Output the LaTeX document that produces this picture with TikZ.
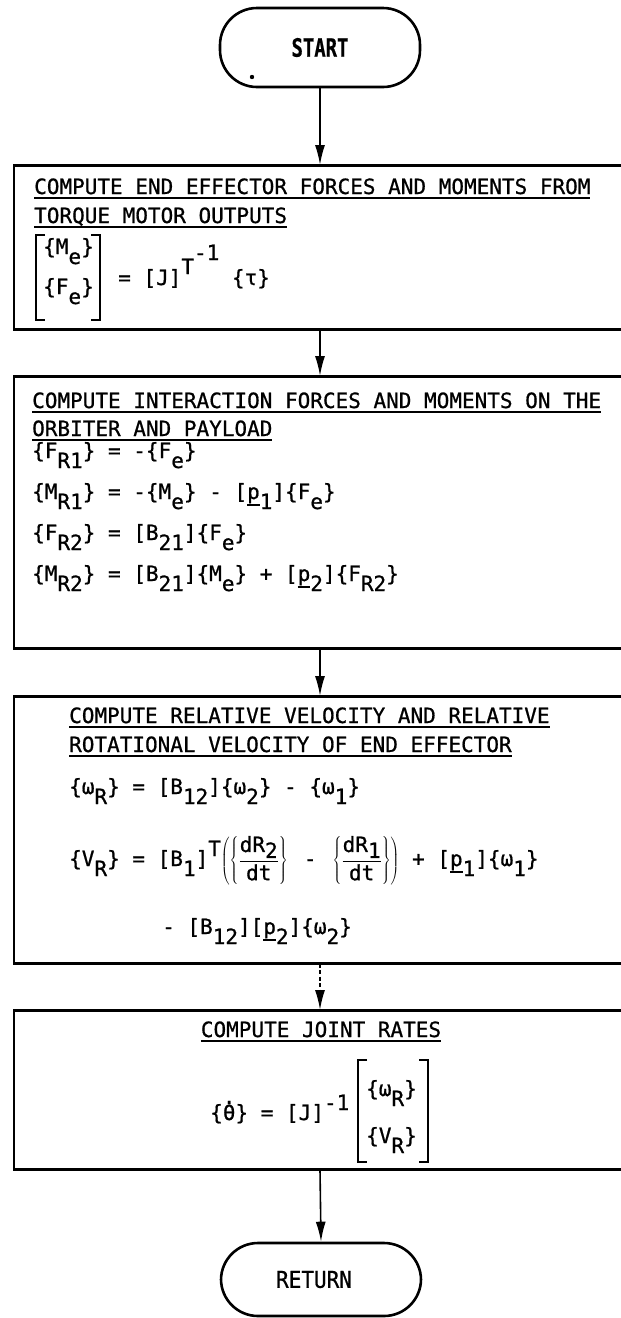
\documentclass[tikz,border=0pt]{standalone}
\usepackage{fontspec}
\usetikzlibrary{arrows.meta}
\newfontfamily\tw[FakeBold=0.8]{DejaVu Sans Mono}
\newcommand\sbs[1]{\raisebox{-10pt}{#1}}
\newcommand\sps[1]{\raisebox{10pt}{#1}}
\newcommand\ul[1]{\setbox0\hbox{#1}\rlap{\rule[-5pt]{\wd0}{1.8pt}}\box0}
\newcommand\up{\setbox2\hbox{p}\rlap{\rule[-6.5pt]{\wd2}{1.3pt}}\box2}
\newcommand\thd{\ooalign{θ\cr\hidewidth\raisebox{16pt}{.}\hidewidth\cr}}
\begin{document}
\begin{tikzpicture}[x=1pt,y=-1pt,
  txt/.style={anchor=base west, inner sep=0pt, font=\tw\fontsize{21}{25}\selectfont},
  box/.style={draw, line width=1.5pt, inner sep=0pt, anchor=north west, minimum width=627pt},
  term/.style={draw, line width=2.6pt, rounded corners=37pt, minimum width=200pt, font=\tw\fontsize{21}{25}\selectfont, inner sep=0pt},
  arr/.style={line width=1.6pt, -{Latex[length=20pt,width=10pt]}},
  edgeline/.style={line width=3pt},
  mbr/.style={line width=2.2pt}]
\useasboundingbox (0,0) rectangle (621,1318);
\fill[white] (0,0) rectangle (621,1318);
\clip (0,0) rectangle (621,1318);

% terminals
\node[term, minimum height=79pt] (start) at (320,47.5) {\raisebox{-5pt}{\scalebox{0.9}[1.2]{\textbf{START}}}};
\fill (252,77) circle (2.2);
\node[term, minimum height=73pt] (ret) at (321,1279.5) {\scalebox{1}[1.1]{RETURN}\hspace*{14pt}};

% boxes
\node[box, minimum height=163pt] (b1) at (13,165) {};
\node[box, minimum height=271pt] (b2) at (13,376) {};
\node[box, minimum height=266pt] (b3) at (13,696) {};
\node[box, minimum height=158pt] (b4) at (13,1010) {};
\foreach \b in {b1,b2,b3,b4}{
  \draw[edgeline] (\b.north west) -- (\b.north east);
  \draw[edgeline] (\b.south west) -- (\b.south east);
}

% connectors
\draw[arr] (start.south) -- (start.south |- b1.north);
\draw[arr] (b1.south -| start) -- (b2.north -| start);
\draw[arr] (b2.south -| start) -- (b3.north -| start);
\draw[arr, dash pattern=on 4pt off 2.5pt] (b3.south -| start) -- (b4.north -| start);
\draw[arr] (b4.south -| start) -- (ret.north);

% box 1
\node[txt] (t1a) at (34,194) {\ul{COMPUTE END EFFECTOR FORCES AND MOMENTS FROM}};
\node[txt] (t1b) at (34,223) {\ul{TORQUE MOTOR OUTPUTS}};
\draw[mbr] (45,235) -- (36,235) -- (36,320) -- (45,320);
\draw[mbr] (91,235) -- (100,235) -- (100,320) -- (91,320);
\node[txt] (m1a) at (43,254) {\{M\sbs{e}\}};
\node[txt] (m1b) at (43,294) {\{F\sbs{e}\}};
\node[txt] (e1) at (118,285) {= [J]\raisebox{11pt}{T\raisebox{14pt}{-1}} \{τ\}};

% box 2
\node[txt] (t2a) at (32,408) {\ul{COMPUTE INTERACTION FORCES AND MOMENTS ON THE}};
\node[txt] (t2b) at (32,436) {\ul{ORBITER AND PAYLOAD}};
\node[txt] (e2a) at (32,458) {\{F\sbs{R1}\} = -\{F\sbs{e}\}};
\node[txt] (e2b) at (32,499) {\{M\sbs{R1}\} = -\{M\sbs{e}\} - [\up\sbs{1}]\{F\sbs{e}\}};
\node[txt] (e2c) at (32,540) {\{F\sbs{R2}\} = [B\sbs{21}]\{F\sbs{e}\}};
\node[txt] (e2d) at (32,581) {\{M\sbs{R2}\} = [B\sbs{21}]\{M\sbs{e}\} + [\up\sbs{2}]\{F\sbs{R2}\}};

% box 3
\node[txt] (t3a) at (69,723) {\ul{COMPUTE RELATIVE VELOCITY AND RELATIVE}};
\node[txt] (t3b) at (69,752) {\ul{ROTATIONAL VELOCITY OF END EFFECTOR}};
\node[txt] (e3a) at (69,794) {\{ω\sbs{R}\} = [B\sbs{12}]\{ω\sbs{2}\} - \{ω\sbs{1}\}};
\node[txt] (e3b) at (69,866) {\{V\sbs{R}\} = [B\sbs{1}]\sps{T}$\displaystyle\left(\left\{\frac{\hbox{dR\raisebox{-6pt}{2}}}{\hbox{dt}}\right\}\hbox{ - }\left\{\frac{\hbox{dR\raisebox{-6pt}{1}}}{\hbox{dt}}\right\}\right)$ + [\up\sbs{1}]\{ω\sbs{1}\}};
\node[txt] (e3c) at (162,934) {- [B\sbs{12}][\up\sbs{2}]\{ω\sbs{2}\}};

% box 4
\node[txt, anchor=base] (t4a) at (321,1037) {\ul{COMPUTE JOINT RATES}};
\node[txt] (e4) at (210,1120) {\{\thd\} = [J]\raisebox{10pt}{-1}};
\draw[mbr] (367,1060) -- (358,1060) -- (358,1162) -- (367,1162);
\draw[mbr] (419,1060) -- (428,1060) -- (428,1162) -- (419,1162);
\node[txt] (m4a) at (366,1096) {\{ω\sbs{R}\}};
\node[txt] (m4b) at (366,1143) {\{V\sbs{R}\}};
\end{tikzpicture}
\end{document}
